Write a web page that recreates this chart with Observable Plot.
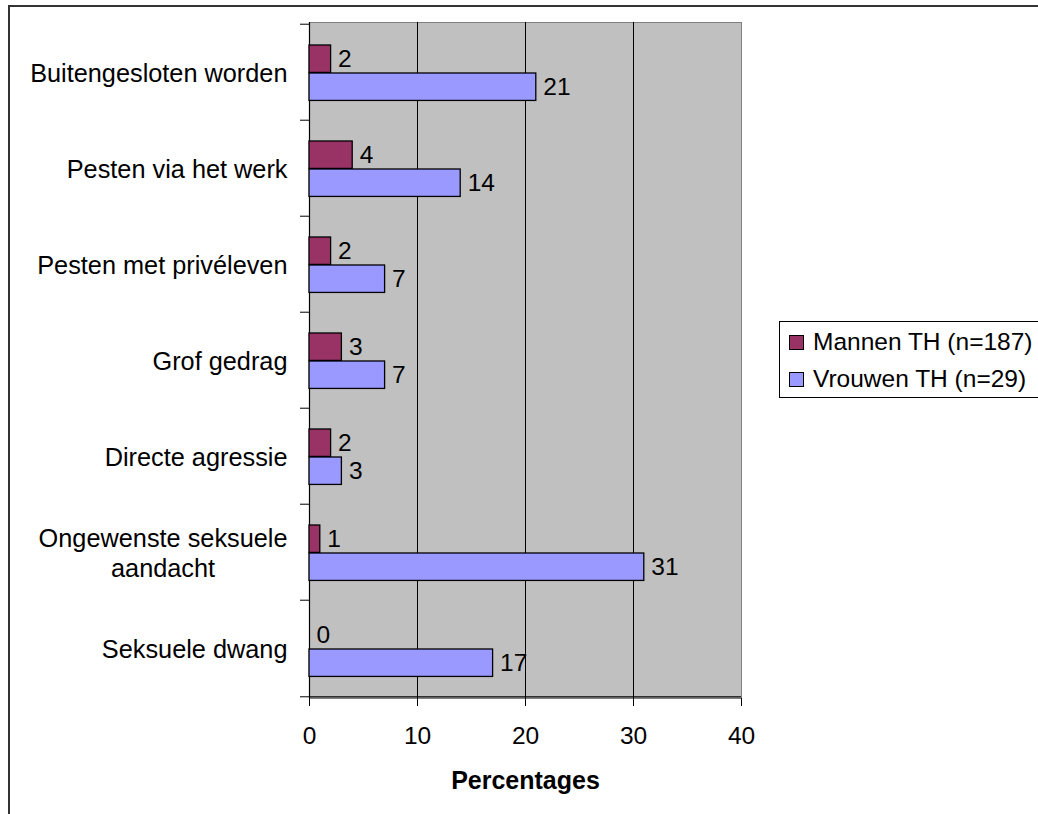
<!DOCTYPE html>
<html>
<head>
<meta charset="utf-8">
<script src="https://cdn.jsdelivr.net/npm/d3@7"></script>
<script src="https://cdn.jsdelivr.net/npm/@observablehq/plot@0.6"></script>
<style>
  html, body { margin: 0; padding: 0; background: #fff; }
  #wrap { position: relative; width: 1038px; height: 814px; overflow: hidden; font-family: "Liberation Sans", Arial, sans-serif; }
  #outer { position: absolute; left: 8px; top: 5px; width: 1100px; height: 900px; border-left: 2px solid #333; border-top: 2px solid #333; box-sizing: border-box; }
  #chart { position: absolute; left: 0; top: 0; }
  #legend { position: absolute; left: 779px; top: 321px; width: 300px; height: 77px; border: 1px solid #000; border-right: none; box-sizing: border-box; background: #fff; font-size: 24.5px; }
  .item { position: absolute; left: 0; height: 28px; display: flex; align-items: center; white-space: nowrap; }
  .sw { width: 13px; height: 13px; border: 1px solid #000; margin-left: 9px; margin-right: 9px; }
</style>
</head>
<body>
<div id="wrap">
  <div id="outer"></div>
  <div id="chart"></div>
  <div id="legend"></div>
</div>
<script>
const categories = [
  "Buitengesloten worden",
  "Pesten via het werk",
  "Pesten met privéleven",
  "Grof gedrag",
  "Directe agressie",
  "Ongewenste seksuele\naandacht",
  "Seksuele dwang"
];
const seriesNames = ["Mannen TH (n=187)", "Vrouwen TH (n=29)"];
const seriesColors = ["#993366", "#9999FF"];
const mannen = [2, 4, 2, 3, 2, 1, 0];
const vrouwen = [21, 14, 7, 7, 3, 31, 17];
const xTicks = [0, 10, 20, 30, 40];
const xLabel = "Percentages";

const W = 1038, H = 814;
const mL = 309, mR = 297, mT = 22, mB = 116;
const band = (H - mT - mB) / categories.length;

const dataM = categories.map((c, i) => ({category: c, value: mannen[i]}));
const dataV = categories.map((c, i) => ({category: c, value: vrouwen[i]}));

const font = "'Liberation Sans', Arial, sans-serif";

const plot = Plot.plot({
  width: W, height: H,
  marginLeft: mL, marginRight: mR, marginTop: mT, marginBottom: mB,
  style: {fontFamily: font, fontSize: "24px", color: "#000", background: "transparent", overflow: "visible"},
  x: {domain: [0, 40], axis: null},
  y: {type: "band", domain: categories, paddingInner: 0, paddingOuter: 0, axis: null},
  marks: [
    Plot.frame({fill: "#c0c0c0", stroke: "#808080"}),
    Plot.ruleX(xTicks.slice(1, -1), {stroke: "#000", strokeWidth: 1}),
    Plot.ruleX([0], {stroke: "#000", strokeWidth: 1.2}),
    Plot.ruleY([categories[categories.length - 1]], {y: d => d, dy: band / 2, stroke: "#000", strokeWidth: 1.2}),
    Plot.barX(dataM, {x: "value", y: "category", fill: seriesColors[0], stroke: "#000", strokeWidth: 1.3, insetTop: 21, insetBottom: band - 49}),
    Plot.barX(dataV, {x: "value", y: "category", fill: seriesColors[1], stroke: "#000", strokeWidth: 1.3, insetTop: 49, insetBottom: band - 77}),
    Plot.text(dataM, {x: "value", y: "category", text: d => String(d.value), dx: 7, dy: 35 - band / 2, textAnchor: "start", fontSize: 24.5, fill: "#000"}),
    Plot.text(dataV, {x: "value", y: "category", text: d => String(d.value), dx: 7, dy: 63 - band / 2, textAnchor: "start", fontSize: 24.5, fill: "#000"}),
    // category labels
    Plot.axisY({anchor: "left", tickSize: 0, tickPadding: 22, fontSize: 25.3, lineHeight: 1.19, label: null}),
    // boundary ticks
    Plot.axisY({anchor: "left", tickSize: 9, fill: "none", label: null, dy: -band / 2, stroke: "#000"}),
    Plot.axisY({anchor: "left", ticks: [categories[categories.length - 1]], tickSize: 9, fill: "none", label: null, dy: band / 2, stroke: "#000"}),
    // x axis
    Plot.axisX({anchor: "bottom", ticks: xTicks, tickSize: 8, tickPadding: 20, fontSize: 24.5, label: null, stroke: "#000"}),
    Plot.text([xLabel], {frameAnchor: "bottom", lineAnchor: "middle", dy: 82, text: d => d, fontSize: 25, fontWeight: "bold", fill: "#000"})
  ]
});
document.getElementById("chart").appendChild(plot);

// center the lines of multi-line category labels on each other
plot.querySelectorAll("text").forEach(t => {
  const spans = t.querySelectorAll("tspan");
  if (spans.length > 1) {
    const widths = Array.from(spans, s => s.getComputedTextLength());
    const maxW = Math.max(...widths);
    spans.forEach((s, i) => s.setAttribute("x", -(maxW - widths[i]) / 2));
  }
});

// legend
const legend = document.getElementById("legend");
seriesNames.forEach((name, i) => {
  const item = document.createElement("div");
  item.className = "item";
  item.style.top = (6 + i * 37) + "px";
  const sw = document.createElement("div");
  sw.className = "sw";
  sw.style.background = seriesColors[i];
  const label = document.createElement("span");
  label.textContent = name;
  item.appendChild(sw);
  item.appendChild(label);
  legend.appendChild(item);
});
</script>
</body>
</html>
